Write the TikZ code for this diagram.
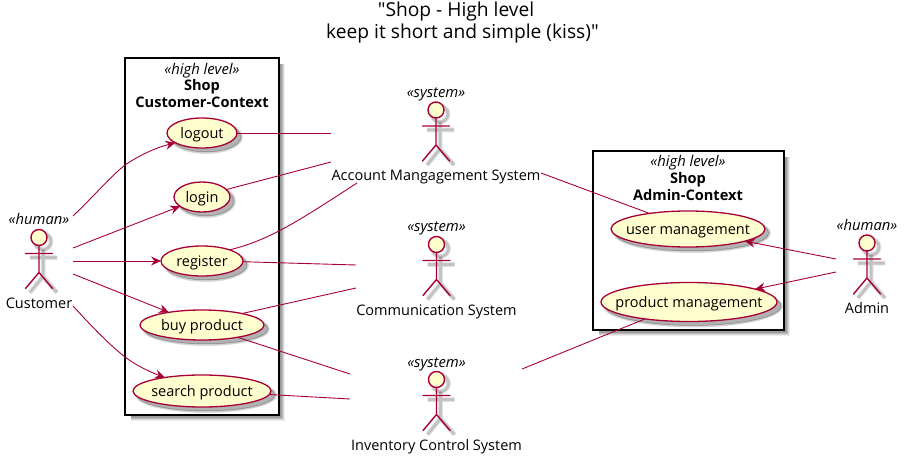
\documentclass[tikz,border=0pt]{standalone}
\usepackage{fontspec}
\setmainfont{Open Sans}
\newfontfamily\plaintitle{Open Sans}
\usetikzlibrary{arrows.meta,shapes.geometric}
\definecolor{umlline}{HTML}{A80036}
\definecolor{umlfill}{HTML}{FEFECE}
\tikzset{
  link/.style={draw=umlline,line width=0.9pt},
  arrowlink/.style={link,-{Stealth[length=10pt,width=9pt,inset=3.5pt]}},
  usecase/.style={ellipse,draw=umlline,fill=umlfill,line width=1.3pt,inner sep=0pt,outer sep=0pt,font=\fontsize{14.5}{16}\selectfont},
  caseshadow/.style={ellipse,fill=black,draw=black,inner sep=0pt,outer sep=0pt},
  stereo/.style={font=\fontsize{14.8}{16}\selectfont\itshape,inner sep=0pt,anchor=base},
  actorlabel/.style={font=\fontsize{14.5}{16}\selectfont,inner sep=0pt,anchor=base},
  boxtitle/.style={font=\fontsize{14.6}{16}\selectfont\bfseries,inner sep=0pt,anchor=base},
  pkgbox/.style={rectangle,draw=black,fill=white,line width=2pt,inner sep=0pt,outer sep=0pt},
  titletext/.style={font=\plaintitle\fontsize{19.2}{22}\selectfont,inner sep=0pt,anchor=base},
  actorstroke/.style={draw=umlline,line width=1.4pt,line cap=round},
}
% name, x, y, w, h, text
\newcommand{\ucase}[6]{%
  \node[caseshadow,minimum width=#4pt+3pt,minimum height=#5pt+3pt,opacity=.10,line width=1pt] at (#2+4,#3+4) {};
  \node[caseshadow,minimum width=#4pt,minimum height=#5pt,opacity=.22,line width=1pt] at (#2+4,#3+4) {};
  \node[usecase,minimum width=#4pt,minimum height=#5pt] (#1) at (#2,#3) {\makebox[0pt]{\smash{\raisebox{-0.36em}{#6}}}};
}
% name, x, heady, stereotype, label
\newcommand{\actorfig}[5]{%
  \begin{scope}[shift={(#2,#3)}]
    \foreach \lw/\op in {5/.09,3/.16}{
      \draw[black,opacity=\op,line width=\lw pt] (4,4) circle[radius=8];
      \draw[black,opacity=\op,line width=\lw pt] (4,12) -- (4,39) (-9,20) -- (18,20) (-9,55) -- (4,39) -- (18,55);
    }
    \fill[white] (0,0) circle[radius=8];
    \draw[actorstroke,fill=umlfill] (0,0) circle[radius=8];
    \draw[actorstroke] (0,8) -- (0,35) (-13.5,16) -- (13.5,16) (-13.5,51) -- (0,35) -- (13.5,51);
    \node[stereo] (#1s) at (0,-12.5) {«#4»};
    \node[actorlabel] (#1l) at (0,70.5) {#5};
  \end{scope}
}
\begin{document}
\begin{tikzpicture}[x=1pt,y=-1pt]
\useasboundingbox (0,0) rectangle (909,462);
\fill[white] (0,0) rectangle (909,462);
% title
\node[titletext] (title1) at (456,17) {"Shop - High level};
\node[titletext] (title2) at (462.5,39) {keep it short and simple (kiss)"};
% package boxes
\foreach \d/\op in {6/.07,5/.09,4/.12,3/.16}{
  \fill[black,opacity=\op] (131,64) rectangle (279+\d,415+\d);
  \fill[black,opacity=\op] (599,157) rectangle (784+\d,330+\d);
}
\node[pkgbox,minimum width=154pt,minimum height=357pt] (custbox) at (202,236.5) {};
\node[pkgbox,minimum width=191pt,minimum height=179pt] (admbox) at (688.5,240.5) {};
\node[stereo] (custst) at (202,74.5) {«high level»};
\node[boxtitle] (custt1) at (202,90.5) {Shop};
\node[boxtitle] (custt2) at (202,108) {Customer-Context};
\node[stereo] (admst) at (688,167) {«high level»};
\node[boxtitle] (admt1) at (688,183.5) {Shop};
\node[boxtitle] (admt2) at (688,200.5) {Admin-Context};
% use cases
\ucase{logout}{202}{133}{70}{30}{logout}
\ucase{login}{202}{197}{56}{30}{login}
\ucase{register}{202}{261}{82}{30}{register}
\ucase{buy}{202}{325}{124}{30}{buy product}
\ucase{search}{202}{391}{138}{32}{search product}
\ucase{usermg}{688}{229}{154}{36}{user management}
\ucase{prodmg}{689}{302}{176}{39}{product management}
% actors
\actorfig{cust}{39}{237.5}{human}{Customer}
\actorfig{acct}{436}{110}{system}{Account Mangagement System}
\actorfig{comm}{436.5}{244.5}{system}{Communication System}
\actorfig{inv}{436.5}{379.5}{system}{Inventory Control System}
\actorfig{adm}{867}{243}{human}{Admin}
% connector free ends at the actors' outlines
\coordinate (custA) at (73,216);
\coordinate (custB) at (73,248);
\coordinate (custC) at (73,261);
\coordinate (custD) at (73,274);
\coordinate (custE) at (73,306);
\coordinate (acctA) at (331,133);
\coordinate (acctB) at (331,162);
\coordinate (acctC) at (357,183);
\coordinate (acctD) at (541,173);
\coordinate (commA) at (356,265);
\coordinate (commB) at (356,288);
\coordinate (invA) at (350,374);
\coordinate (invB) at (350,399);
\coordinate (invC) at (522,369);
\coordinate (admA) at (836,259);
\coordinate (admB) at (836,272);
% connectors
\draw[arrowlink] (custA) .. controls (95,195) and (110,177) .. (125,165) .. controls (140,155) and (155,148) .. (logout.200);
\draw[arrowlink] (custB) -- (login.203);
\draw[arrowlink] (custC) -- (register.west);
\draw[arrowlink] (custD) -- (buy.159.5);
\draw[arrowlink] (custE) .. controls (95,330) and (110,345) .. (125,357) .. controls (137,366) and (150,372) .. (search.160);
\draw[link] (logout.east) -- (acctA);
\draw[link] (login.17) -- (acctB);
\draw[link] (register.22.5) .. controls (270,240) and (300,220) .. (acctC);
\draw[link] (register.-1) -- (commA);
\draw[link] (buy.16.5) -- (commB);
\draw[link] (buy.-19) -- (invA);
\draw[link] (search.-3) -- (invB);
\draw[link] (acctD) -- (usermg.158);
\draw[link] (invC) -- (prodmg.201);
\draw[arrowlink] (admA) -- (usermg.-12);
\draw[arrowlink] (admB) -- (prodmg.11);
\end{tikzpicture}
\end{document}
